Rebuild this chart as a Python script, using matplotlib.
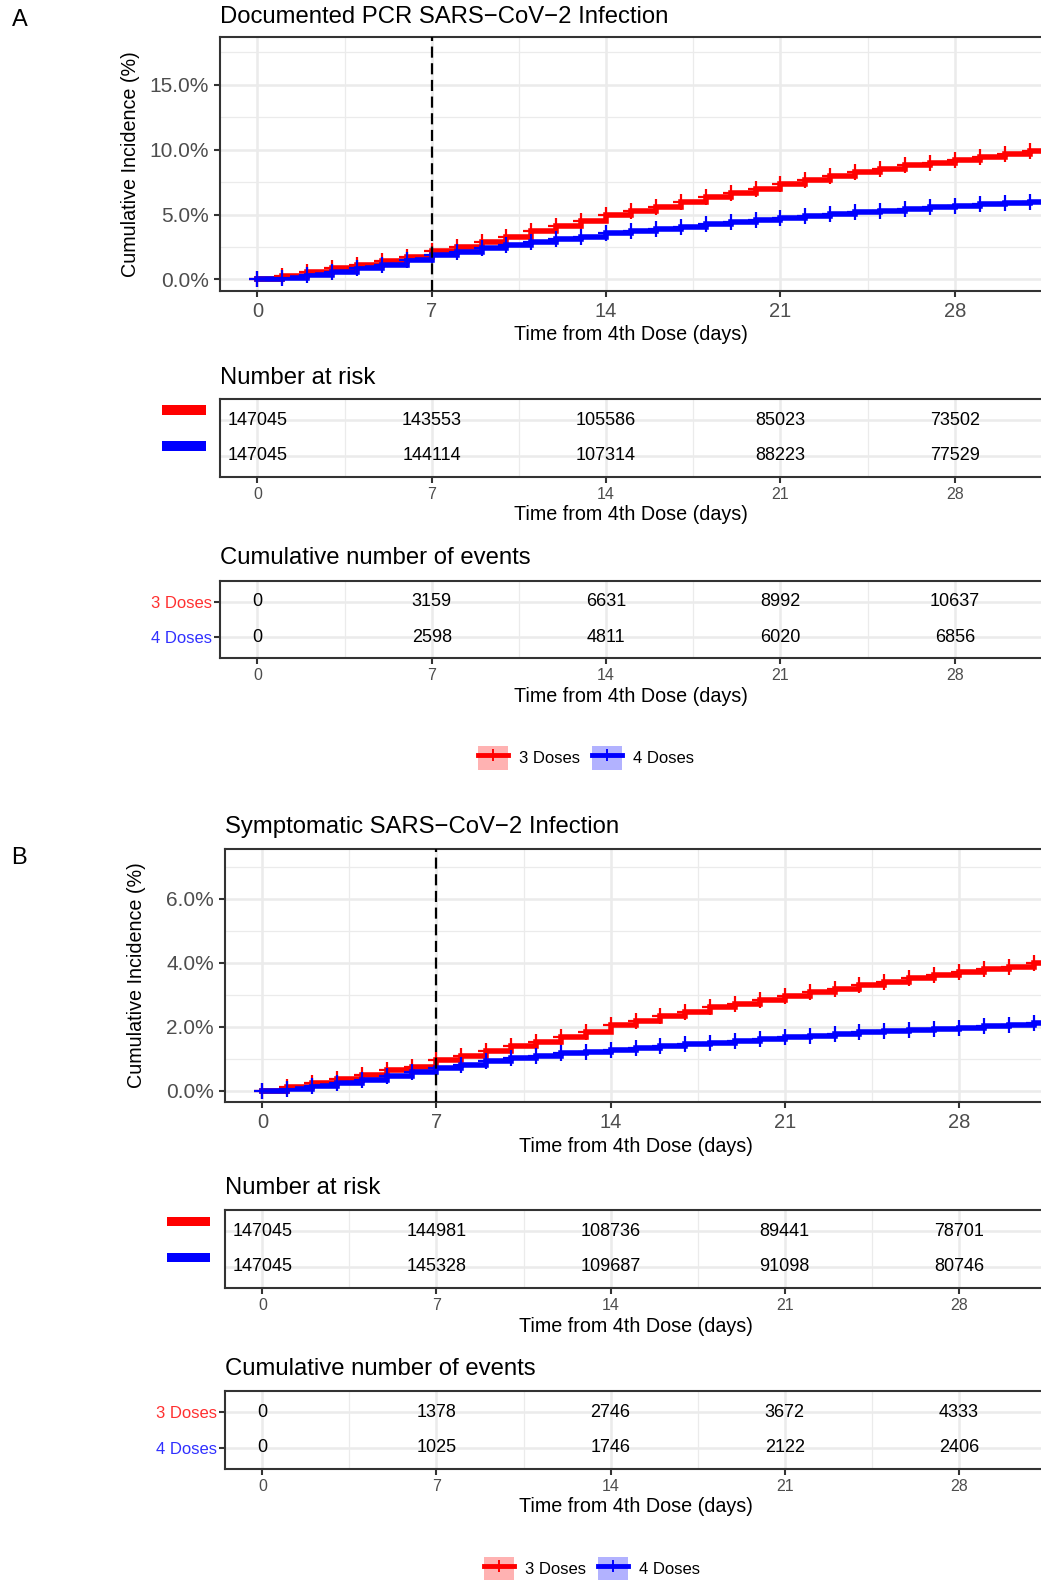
import matplotlib
matplotlib.use("Agg")
from matplotlib import pyplot as plt
from matplotlib.patches import Patch, Rectangle
from matplotlib.lines import Line2D
from matplotlib.legend_handler import HandlerTuple
import numpy as np

plt.rcParams['font.family'] = ['Liberation Sans', 'DejaVu Sans']

# data
days = list(range(0, 32))
a_3doses = [0, 0.26, 0.6, 0.85, 1.1, 1.45, 1.75, 2.2, 2.5, 2.9, 3.3, 3.7, 4.1, 4.5, 4.95, 5.3,
            5.6, 6.0, 6.35, 6.65, 7.0, 7.37, 7.7, 7.95, 8.25, 8.5, 8.8, 9.0, 9.2, 9.45, 9.7, 9.87]
a_4doses = [0, 0.1, 0.35, 0.6, 0.85, 1.15, 1.5, 1.85, 2.15, 2.4, 2.65, 2.9, 3.1, 3.3, 3.55, 3.75,
            3.9, 4.07, 4.25, 4.4, 4.6, 4.77, 4.9, 5.03, 5.18, 5.3, 5.44, 5.57, 5.67, 5.82, 5.93, 6.0]
b_3doses = [0, 0.1, 0.25, 0.35, 0.49, 0.63, 0.75, 0.94, 1.09, 1.24, 1.38, 1.53, 1.69, 1.84, 2.05, 2.18,
            2.32, 2.45, 2.6, 2.71, 2.84, 2.96, 3.08, 3.18, 3.29, 3.41, 3.52, 3.62, 3.7, 3.8, 3.88, 3.99]
b_4doses = [0, 0.04, 0.13, 0.23, 0.33, 0.46, 0.57, 0.7, 0.8, 0.91, 1.01, 1.09, 1.16, 1.22, 1.27, 1.34,
            1.4, 1.45, 1.5, 1.56, 1.61, 1.67, 1.72, 1.76, 1.82, 1.86, 1.9, 1.94, 1.97, 2.01, 2.06, 2.11]

table_times = [0, 7, 14, 21, 28]
a_risk_3 = [147045, 143553, 105586, 85023, 73502]
a_risk_4 = [147045, 144114, 107314, 88223, 77529]
a_events_3 = [0, 3159, 6631, 8992, 10637]
a_events_4 = [0, 2598, 4811, 6020, 6856]
b_risk_3 = [147045, 144981, 108736, 89441, 78701]
b_risk_4 = [147045, 145328, 109687, 91098, 80746]
b_events_3 = [0, 1378, 2746, 3672, 4333]
b_events_4 = [0, 1025, 1746, 2122, 2406]

group_names = ['3 Doses', '4 Doses']
RED = '#FF0000'
BLUE = '#0000FF'
GRID = '#EBEBEB'
BORDER = '#333333'
XLIM = (-1.5, 31.5)

W, H = 1041, 1580
fig = plt.figure(figsize=(W / 100, H / 100), dpi=100, facecolor='white')


def px_axes(left, top, right, bottom):
    return fig.add_axes([left / W, 1 - bottom / H, (right - left) / W, (bottom - top) / H])


def ftext(x, y, s, **kw):
    return fig.text(x / W, 1 - y / H, s, **kw)


def frame(ax):
    for side in ['left', 'top', 'bottom']:
        ax.spines[side].set_color(BORDER)
        ax.spines[side].set_linewidth(1.5)
    ax.spines['right'].set_visible(False)
    ax.set_xlim(*XLIM)
    ax.set_xticks([0, 7, 14, 21, 28])
    ax.set_xticks([3.5, 10.5, 17.5, 24.5, 31.5], minor=True)
    ax.grid(which='major', color=GRID, lw=1.8)
    ax.grid(which='minor', color=GRID, lw=0.9)
    ax.set_axisbelow(True)
    ax.tick_params(which='minor', length=0)


def km_panel(box, ylim, yticks, yminor, ylabels, y3, y4, title, title_base, xlab_y):
    left, top, right, bottom = box
    ax = px_axes(left, top, right, bottom)
    frame(ax)
    ax.set_ylim(*ylim)
    ax.set_yticks(yticks)
    ax.set_yticklabels(ylabels)
    ax.set_yticks(yminor, minor=True)
    ax.tick_params(which='major', length=4, width=1.5, color=BORDER, labelsize=15,
                   labelcolor='#4D4D4D', pad=4)
    ax.tick_params(axis='x', labelsize=14.5)
    for vals, col in [(y3, RED), (y4, BLUE)]:
        xs = days + [XLIM[1]]
        ys = vals + [vals[-1]]
        ax.step(xs, ys, where='post', color=col, lw=4, solid_joinstyle='miter', zorder=3)
        ax.plot(days, vals, ls='none', marker='+', ms=11, mew=1.6, color=col, zorder=4)
    ax.axvline(7, color='black', lw=1.6, ls=(0, (5, 2.5)), zorder=5)
    ftext(left, title_base, title, fontsize=17.2, ha='left', va='baseline')
    ftext((left + right) / 2, xlab_y, 'Time from 4th Dose (days)', fontsize=14.2,
          ha='center', va='center')
    ftext(left - 89, (top + bottom) / 2, 'Cumulative Incidence (%)', fontsize=14.2,
          rotation=90, ha='center', va='center')
    return ax


def table(box, v3, v4, title, title_base, xlab_y, row_labels):
    left, top, right, bottom = box
    ax = px_axes(left, top, right, bottom)
    frame(ax)
    ax.set_ylim(0.4, 2.6)
    ax.set_yticks([2, 1])
    for t, a, b in zip(table_times, v3, v4):
        ax.text(t, 2, str(a), ha='center', va='center', fontsize=13)
        ax.text(t, 1, str(b), ha='center', va='center', fontsize=13)
    ax.tick_params(axis='x', which='major', length=4, width=1.5, color=BORDER,
                   labelsize=11.5, labelcolor='#4D4D4D', pad=3)
    if row_labels:
        ax.set_yticklabels(group_names)
        ax.tick_params(axis='y', which='major', length=4, width=1.5, color=BORDER,
                       labelsize=12, pad=2)
        for lab, col in zip(ax.get_yticklabels(), ['#FF3030', '#3030FF']):
            lab.set_color(col)
    else:
        ax.set_yticklabels([])
        ax.tick_params(axis='y', which='major', length=0)
    ftext(left, title_base, title, fontsize=17.2, ha='left', va='baseline')
    ftext((left + right) / 2, xlab_y, 'Time from 4th Dose (days)', fontsize=14.2,
          ha='center', va='center')
    return ax


def legend(cx, cy):
    handles = [(Patch(facecolor=c, alpha=0.3, edgecolor='none'),
                Line2D([], [], color=c, lw=3.5, marker='+', ms=9, mew=1.4))
               for c in [RED, BLUE]]
    fig.legend(handles, group_names, loc='center', bbox_to_anchor=(cx / W, 1 - cy / H),
               ncol=2, frameon=False, fontsize=12, handlelength=1.8, handleheight=1.8,
               handletextpad=0.7, columnspacing=0.7, borderpad=0,
               handler_map={tuple: HandlerTuple(ndivide=1, pad=0)})


def strips(x0, x1, ys):
    for y, c in zip(ys, [RED, BLUE]):
        fig.add_artist(Rectangle((x0 / W, 1 - (y + 4.5) / H), (x1 - x0) / W, 9 / H,
                                 facecolor=c, edgecolor='none', transform=fig.transFigure))


# ---- panel A
km_panel((220, 37, 1042, 291), (-0.89, 18.69), [0, 5, 10, 15], [2.5, 7.5, 12.5, 17.5],
         ['0.0%', '5.0%', '10.0%', '15.0%'], a_3doses, a_4doses,
         'Documented PCR SARS\u2212CoV\u22122 Infection', 23, 334)
table((220, 399, 1042, 477), a_risk_3, a_risk_4, 'Number at risk', 384, 515, False)
strips(162, 206, [410, 446])
table((220, 581, 1042, 658), a_events_3, a_events_4, 'Cumulative number of events', 564, 697, True)
legend(586, 758)
ftext(20, 20, 'A', fontsize=17, ha='center', va='center')

# ---- panel B
km_panel((225, 849, 1046, 1102), (-0.36, 7.56), [0, 2, 4, 6], [1, 3, 5, 7],
         ['0.0%', '2.0%', '4.0%', '6.0%'], b_3doses, b_4doses,
         'Symptomatic SARS\u2212CoV\u22122 Infection', 833, 1146)
table((225, 1210, 1046, 1288), b_risk_3, b_risk_4, 'Number at risk', 1194, 1326, False)
strips(167, 210, [1221, 1257])
table((225, 1391, 1046, 1469), b_events_3, b_events_4, 'Cumulative number of events', 1375, 1507, True)
legend(592, 1569)
ftext(19, 858, 'B', fontsize=17, ha='center', va='center')

fig.savefig('out.png', dpi=100, facecolor='white')
